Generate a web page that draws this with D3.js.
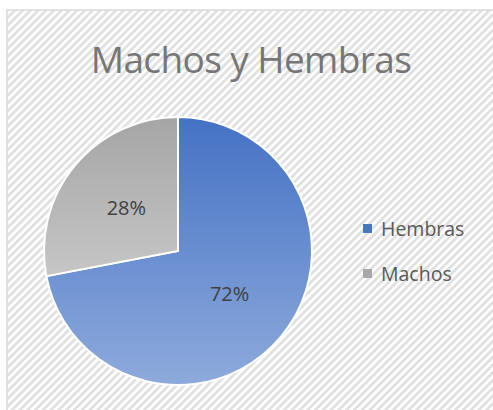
<!DOCTYPE html>
<html>
<head>
<meta charset="utf-8">
<script src="https://cdn.jsdelivr.net/npm/d3@7"></script>
<style>
  body { margin: 0; background: #fff; }
  svg { display: block; }
</style>
</head>
<body>
<div id="chart"></div>
<script>
// data
var categories = ["Hembras", "Machos"];
var values = [72, 28];
var labels = ["72%", "28%"];

var W = 493, H = 410;
var svg = d3.select("#chart").append("svg")
  .attr("width", W)
  .attr("height", H);

var defs = svg.append("defs");

// diagonal hatch background
var pat = defs.append("pattern")
  .attr("id", "hatch")
  .attr("patternUnits", "userSpaceOnUse")
  .attr("width", 5.5)
  .attr("height", 5.5)
  .attr("patternTransform", "rotate(45)");
pat.append("rect").attr("width", 5.5).attr("height", 5.5).attr("fill", "#fff");
pat.append("rect").attr("width", 2.8).attr("height", 5.5).attr("fill", "#e1e1e1");

// slice gradients
var grads = [
  { id: "gH", top: "#4472c4", bottom: "#8eaadc" },
  { id: "gM", top: "#a5a5a5", bottom: "#c6c6c6" }
];
grads.forEach(function(g) {
  var lg = defs.append("linearGradient")
    .attr("id", g.id)
    .attr("x1", 0).attr("y1", 0).attr("x2", 0).attr("y2", 1);
  lg.append("stop").attr("offset", "0%").attr("stop-color", g.top);
  lg.append("stop").attr("offset", "100%").attr("stop-color", g.bottom);
});

// chart area
svg.append("rect")
  .attr("x", 7).attr("y", 10)
  .attr("width", W + 10).attr("height", H + 10)
  .attr("fill", "url(#hatch)")
  .attr("stroke", "#d9d9d9")
  .attr("stroke-width", 1.5);

// title
svg.append("text")
  .attr("x", 251)
  .attr("y", 73)
  .attr("text-anchor", "middle")
  .attr("style", "font-size: 37px; letter-spacing: -0.6px; font-family: 'Open Sans', sans-serif")
  .attr("fill", "#767676")
  .text("Machos y Hembras");

// pie
var cx = 178, cy = 251, r = 134;
var pie = d3.pie().sort(null).value(function(d) { return d; });
var arc = d3.arc().innerRadius(0).outerRadius(r);
var fills = ["url(#gH)", "url(#gM)"];

var g = svg.append("g").attr("transform", "translate(" + cx + "," + cy + ")");
var arcs = pie(values);

g.selectAll("path.slice")
  .data(arcs)
  .enter().append("path")
  .attr("class", "slice")
  .attr("d", arc)
  .attr("fill", function(d, i) { return fills[i]; })
  .attr("stroke", "#fff")
  .attr("stroke-width", 2);

g.selectAll("text.pct")
  .data(arcs)
  .enter().append("text")
  .attr("class", "pct")
  .attr("transform", function(d) { return "translate(" + arc.centroid(d) + ")"; })
  .attr("text-anchor", "middle")
  .attr("dy", "0.36em")
  .attr("style", "font-size: 20px; font-family: 'Open Sans', sans-serif")
  .attr("fill", "#404040")
  .text(function(d, i) { return labels[i]; });

// legend
var legendColors = ["#4a76c6", "#a8a8a8"];
var lg = svg.append("g").attr("transform", "translate(363,224)");
categories.forEach(function(c, i) {
  var row = lg.append("g").attr("transform", "translate(0," + i * 45 + ")");
  row.append("rect")
    .attr("width", 9).attr("height", 9)
    .attr("fill", legendColors[i]);
  row.append("text")
    .attr("x", 18)
    .attr("y", 5)
    .attr("dy", "0.36em")
    .attr("style", "font-size: 19.5px; font-family: 'Open Sans', sans-serif")
    .attr("fill", "#595959")
    .text(c);
});
</script>
</body>
</html>
